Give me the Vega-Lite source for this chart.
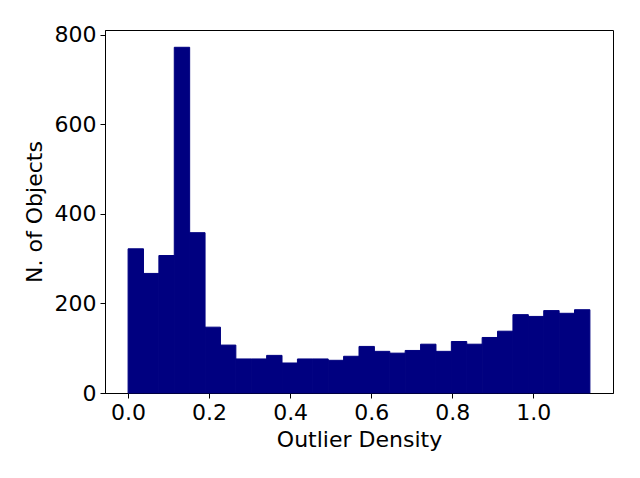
{
  "$schema": "https://vega.github.io/schema/vega-lite/v6.json",
  "autosize": "none",
  "width": 508,
  "height": 363,
  "padding": {"left": 105, "top": 30, "right": 27, "bottom": 85},
  "background": "white",
  "data": {
    "values": [
      {"x0": 0.000, "x1": 0.038, "count": 322},
      {"x0": 0.038, "x1": 0.076, "count": 267},
      {"x0": 0.076, "x1": 0.114, "count": 307},
      {"x0": 0.114, "x1": 0.152, "count": 772},
      {"x0": 0.152, "x1": 0.190, "count": 358},
      {"x0": 0.190, "x1": 0.228, "count": 147},
      {"x0": 0.228, "x1": 0.266, "count": 107},
      {"x0": 0.266, "x1": 0.304, "count": 76},
      {"x0": 0.304, "x1": 0.342, "count": 76},
      {"x0": 0.342, "x1": 0.380, "count": 84},
      {"x0": 0.380, "x1": 0.418, "count": 67},
      {"x0": 0.418, "x1": 0.456, "count": 76},
      {"x0": 0.456, "x1": 0.494, "count": 76},
      {"x0": 0.494, "x1": 0.532, "count": 73},
      {"x0": 0.532, "x1": 0.570, "count": 82},
      {"x0": 0.570, "x1": 0.608, "count": 104},
      {"x0": 0.608, "x1": 0.646, "count": 93},
      {"x0": 0.646, "x1": 0.684, "count": 89},
      {"x0": 0.684, "x1": 0.722, "count": 95},
      {"x0": 0.722, "x1": 0.760, "count": 109},
      {"x0": 0.760, "x1": 0.798, "count": 93},
      {"x0": 0.798, "x1": 0.836, "count": 115},
      {"x0": 0.836, "x1": 0.874, "count": 109},
      {"x0": 0.874, "x1": 0.912, "count": 124},
      {"x0": 0.912, "x1": 0.950, "count": 138},
      {"x0": 0.950, "x1": 0.988, "count": 175},
      {"x0": 0.988, "x1": 1.026, "count": 171},
      {"x0": 1.026, "x1": 1.064, "count": 184},
      {"x0": 1.064, "x1": 1.102, "count": 178},
      {"x0": 1.102, "x1": 1.140, "count": 186}
    ]
  },
  "mark": {"type": "bar", "color": "#000080", "fill": "#000080", "stroke": "#000080", "strokeWidth": 1, "opacity": 1, "fillOpacity": 1, "strokeOpacity": 1},
  "encoding": {
    "x": {
      "field": "x0",
      "type": "quantitative",
      "scale": {"domain": [-0.057, 1.197], "nice": false, "zero": false},
      "axis": {
        "title": "Outlier Density",
        "values": [0, 0.2, 0.4, 0.6, 0.8, 1.0],
        "format": ".1f",
        "grid": false,
        "domainColor": "black",
        "tickColor": "black",
        "tickSize": 5,
        "labelPadding": 4,
        "labelFont": "DejaVu Sans",
        "labelFontSize": 22,
        "labelColor": "black",
        "titleFont": "DejaVu Sans",
        "titleFontSize": 22,
        "titleFontWeight": "normal",
        "titleColor": "black",
        "titlePadding": 6
      }
    },
    "x2": {"field": "x1"},
    "y": {
      "field": "count",
      "type": "quantitative",
      "scale": {"domain": [0, 810.6], "nice": false, "padding": 0},
      "axis": {
        "title": "N. of Objects",
        "values": [0, 200, 400, 600, 800],
        "grid": false,
        "domainColor": "black",
        "tickColor": "black",
        "tickSize": 5,
        "labelPadding": 4,
        "labelFont": "DejaVu Sans",
        "labelFontSize": 22,
        "labelColor": "black",
        "titleFont": "DejaVu Sans",
        "titleFontSize": 22,
        "titleFontWeight": "normal",
        "titleColor": "black",
        "titlePadding": 8
      }
    },
    "y2": {"datum": 0}
  },
  "config": {
    "view": {"stroke": "black", "strokeWidth": 1}
  }
}
